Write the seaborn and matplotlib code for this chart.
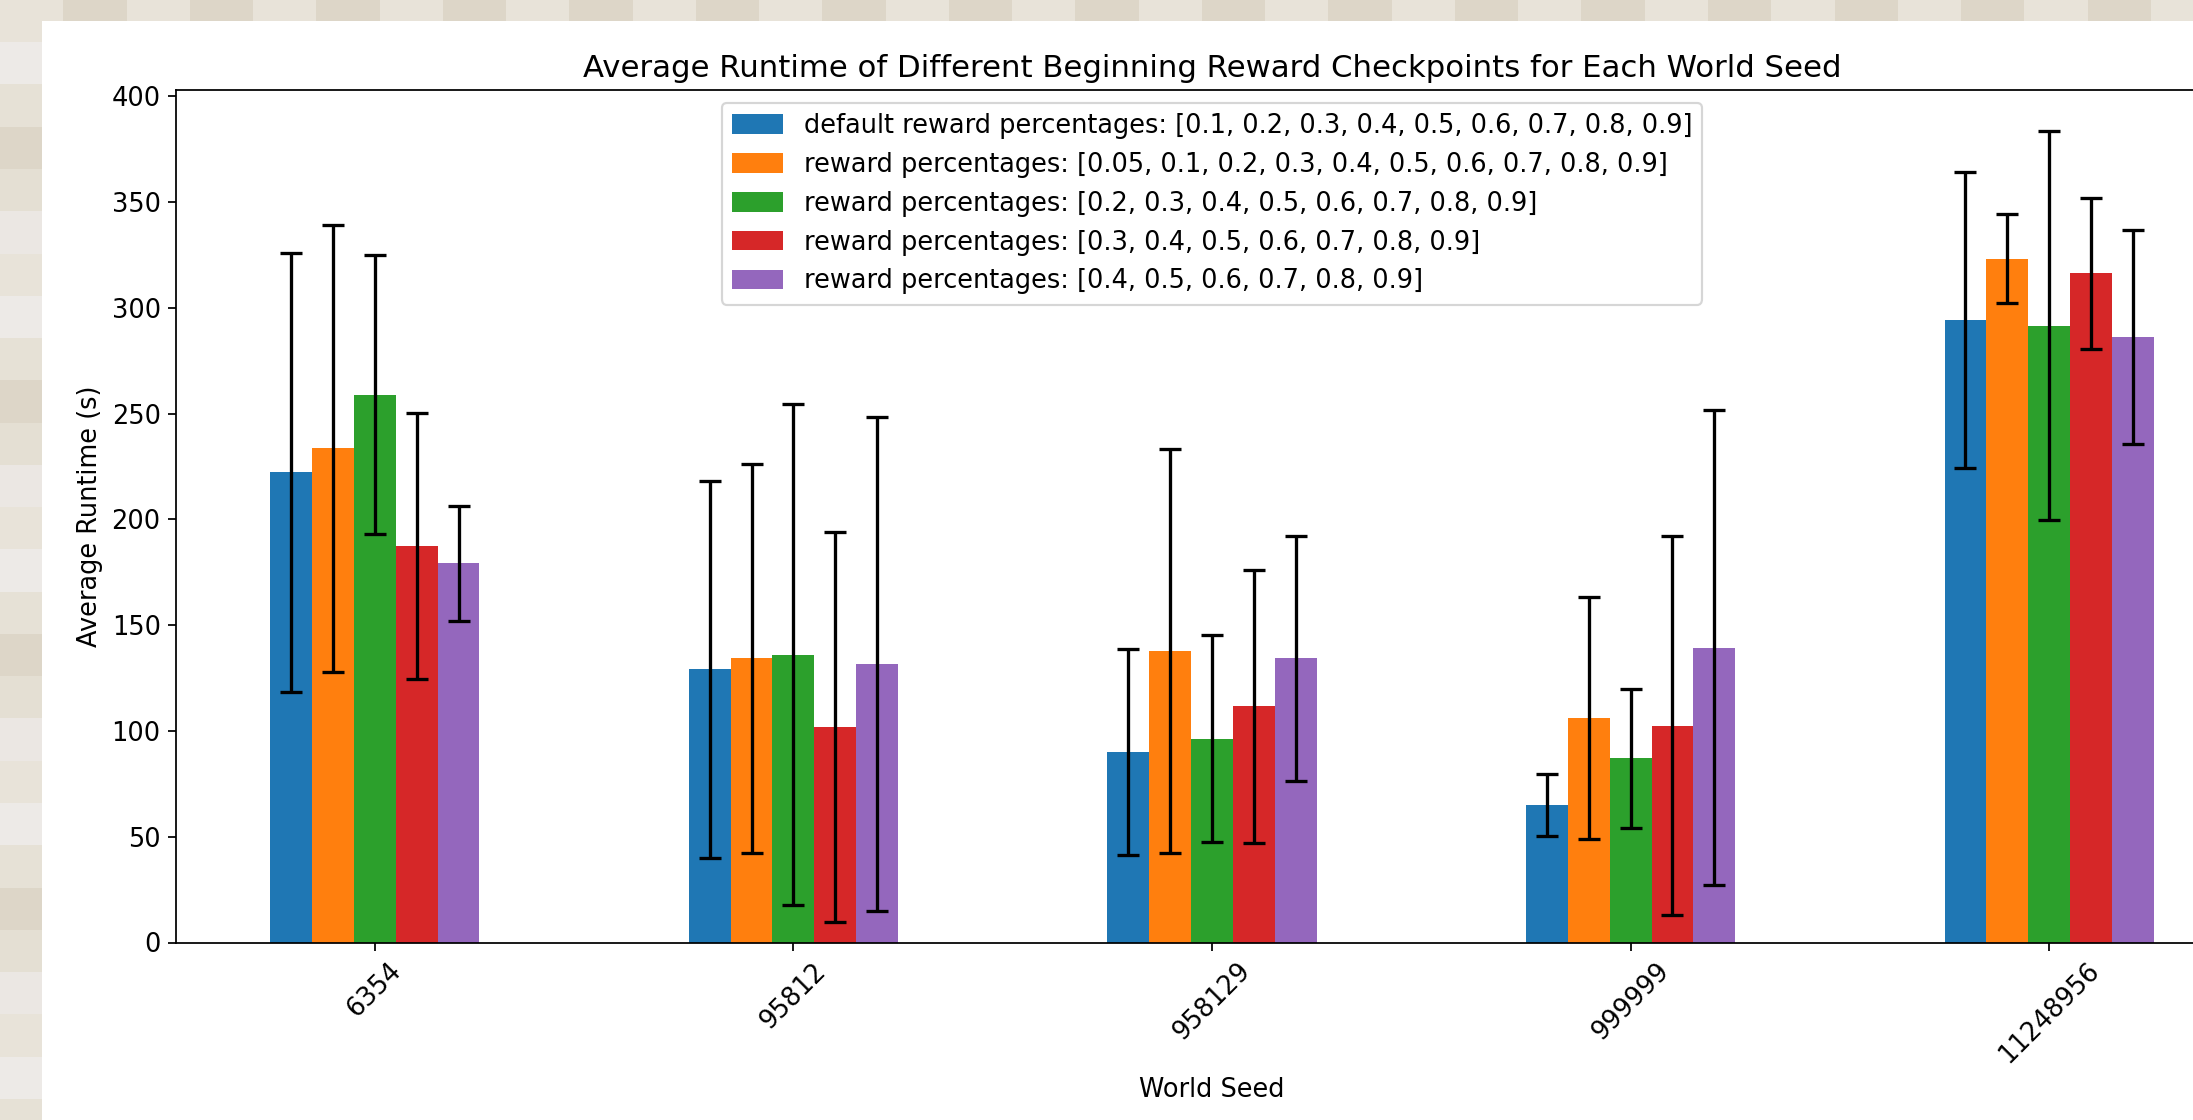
import numpy as np
import pandas as pd
import matplotlib
matplotlib.use("Agg")
import matplotlib.pyplot as plt
from matplotlib.patches import Rectangle
from matplotlib.colors import ListedColormap
import seaborn as sns

# ---------------- data ----------------
seeds = ["6354", "95812", "958129", "999999", "11248956"]
configs = [
    "default reward percentages: [0.1, 0.2, 0.3, 0.4, 0.5, 0.6, 0.7, 0.8, 0.9]",
    "reward percentages: [0.05, 0.1, 0.2, 0.3, 0.4, 0.5, 0.6, 0.7, 0.8, 0.9]",
    "reward percentages: [0.2, 0.3, 0.4, 0.5, 0.6, 0.7, 0.8, 0.9]",
    "reward percentages: [0.3, 0.4, 0.5, 0.6, 0.7, 0.8, 0.9]",
    "reward percentages: [0.4, 0.5, 0.6, 0.7, 0.8, 0.9]",
]
mean_default = [222.2, 129.2, 90.0, 65.0, 294.2]
mean_005 = [233.5, 134.3, 137.9, 106.2, 323.1]
mean_02 = [258.9, 136.1, 96.3, 87.0, 291.6]
mean_03 = [187.2, 101.9, 111.6, 102.5, 316.2]
mean_04 = [179.2, 131.8, 134.3, 139.4, 286.3]

err_default = [103.9, 89.1, 48.8, 14.5, 69.8]
err_005 = [105.8, 92.0, 95.4, 57.2, 21.0]
err_02 = [66.0, 118.6, 48.8, 33.0, 91.8]
err_03 = [62.9, 92.3, 64.6, 89.7, 35.5]
err_04 = [27.2, 116.7, 57.9, 112.4, 50.5]

colors = ["#1f77b4", "#ff7f0e", "#2ca02c", "#d62728", "#9467bd"]

means = [mean_default, mean_005, mean_02, mean_03, mean_04]
errs = [err_default, err_005, err_02, err_03, err_04]

df = pd.DataFrame(
    [(s, c, m) for c, ms in zip(configs, means) for s, m in zip(seeds, ms)],
    columns=["seed", "config", "runtime"],
)

plt.rcParams["font.size"] = 11.68

# ---------------- figure ----------------
W, H, DPI = 2193, 1120, 158
fig = plt.figure(figsize=(W / DPI, H / DPI), dpi=DPI)
fig.patch.set_facecolor("#e7e2d8")

# decorative textured backdrop (screenshot background)
bg = fig.add_axes([0, 0, 1, 1], zorder=-10)
rows, cols = 53, 104
ii, jj = np.meshgrid(np.arange(rows), np.arange(cols), indexing="ij")
pattern = ((ii // 2) * 5 + (jj // 3) * 3 + ((ii // 2) * (jj // 5)) % 4) % 6
tones = ListedColormap(["#e8e3d9", "#ebe7e3", "#e4dfd3", "#ddd6c8", "#e6e1d6", "#edeae7"])
bg.imshow(pattern, cmap=tones, aspect="auto", interpolation="nearest",
          extent=[0, 1, 0, 1])
bg.add_patch(Rectangle((42 / W, 0), 1, (H - 21) / H, transform=bg.transAxes,
                       facecolor="white", edgecolor="none"))
bg.set_xlim(0, 1)
bg.set_ylim(0, 1)
bg.axis("off")

ax = fig.add_axes([176 / W, (H - 942.5) / H, (2248 - 176) / W, (942.5 - 90) / H])

sns.barplot(
    data=df, x="seed", y="runtime", hue="config",
    order=seeds, hue_order=configs, palette=colors,
    width=0.5, saturation=1, errorbar=None, linewidth=0, ax=ax,
)

for cont, e in zip(ax.containers, errs):
    xs = [b.get_x() + b.get_width() / 2 for b in cont]
    ys = [b.get_height() for b in cont]
    ax.errorbar(xs, ys, yerr=e, fmt="none", ecolor="black",
                elinewidth=1.5, capsize=5, capthick=1.5)

ax.set_xlim(-0.475, 4.475)
ax.set_ylim(0, 402.9)
ax.set_yticks([0, 50, 100, 150, 200, 250, 300, 350, 400])
ax.tick_params(axis="x", rotation=45)
ax.set_xlabel("World Seed")
ax.set_ylabel("Average Runtime (s)")
ax.set_title("Average Runtime of Different Beginning Reward Checkpoints for Each World Seed")

handles, labels = ax.get_legend_handles_labels()
ax.legend(handles[:5], labels[:5], loc="upper center", title=None,
          labelspacing=0.5, handleheight=0.8)

fig.savefig("out.png", dpi=DPI)
